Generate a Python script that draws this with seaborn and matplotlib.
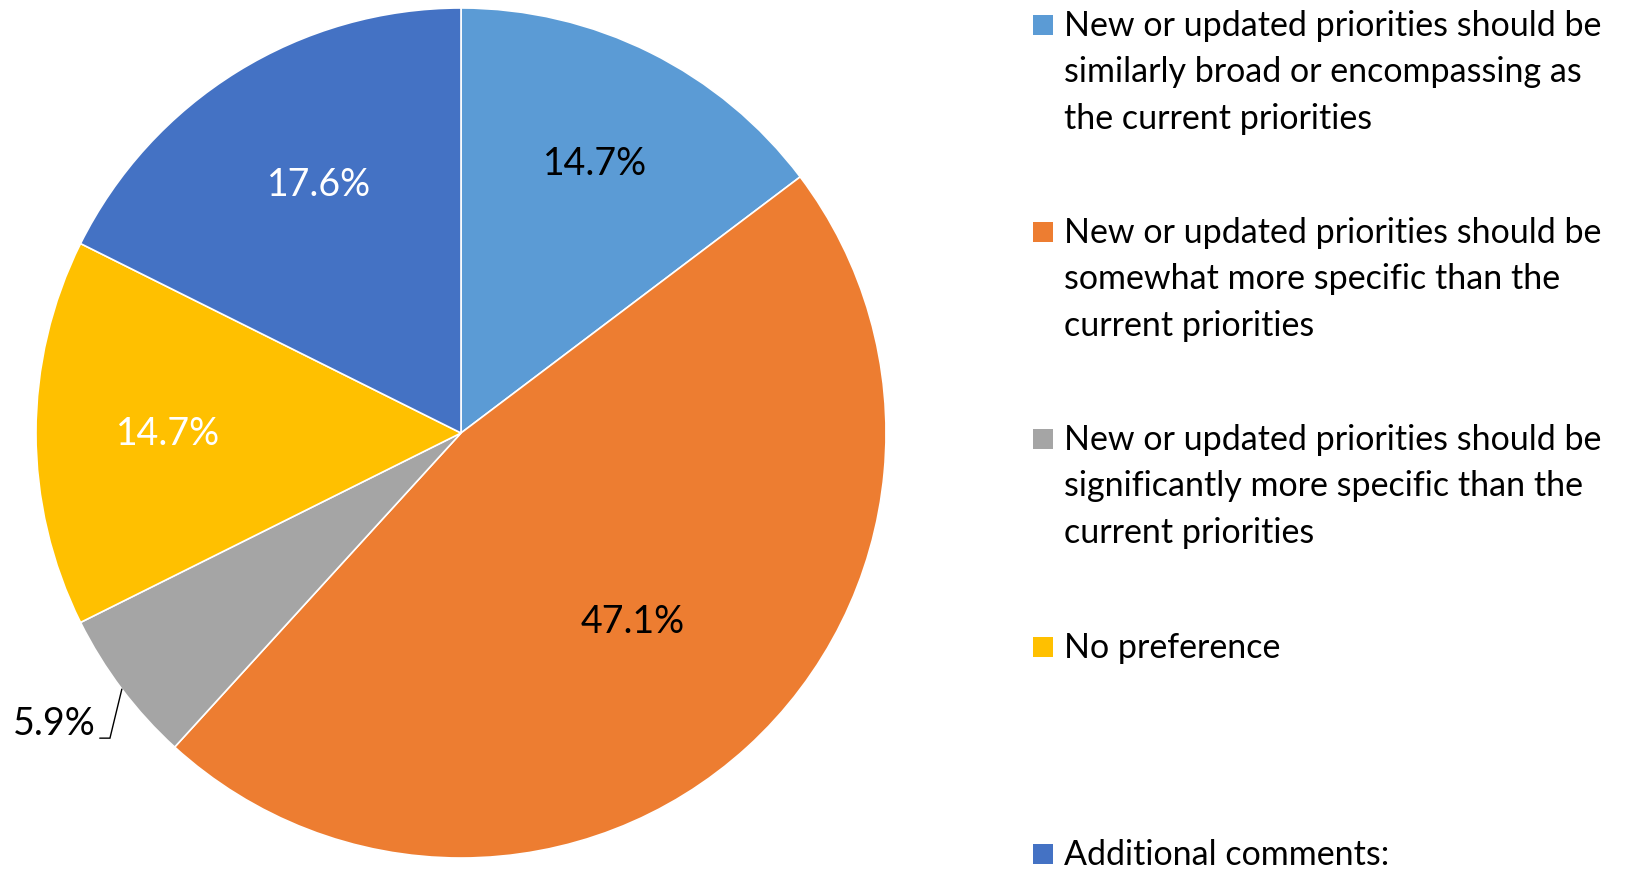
import matplotlib
matplotlib.use("Agg")
import matplotlib.pyplot as plt
from matplotlib.patches import Rectangle
import numpy as np
import seaborn as sns

# Survey responses (counts out of 34)
categories = [
    "New or updated priorities should be\nsimilarly broad or encompassing as\nthe current priorities",
    "New or updated priorities should be\nsomewhat more specific than the\ncurrent priorities",
    "New or updated priorities should be\nsignificantly more specific than the\ncurrent priorities",
    "No preference",
    "Additional comments:",
]
counts = [5, 16, 2, 5, 6]
colors = ["#5B9BD5", "#ED7D31", "#A5A5A5", "#FFC000", "#4472C4"]
label_colors = ["black", "black", "black", "white", "white"]

sns.set_theme(style="white")
plt.rcParams["font.family"] = ["Lato", "DejaVu Sans"]

W, H = 1625, 870
fig = plt.figure(figsize=(W / 100, H / 100), dpi=100)
fig.patch.set_facecolor("white")

cx, cy, R = 461, 434, 425
ax = fig.add_axes([(cx - R) / W, (H - cy - R) / H, 2 * R / W, 2 * R / H])

total = sum(counts)
wedges, texts = ax.pie(
    counts,
    colors=colors,
    startangle=90,
    counterclock=False,
    wedgeprops=dict(edgecolor="white", linewidth=1.2),
)
ax.set_xlim(-1, 1)
ax.set_ylim(-1, 1)
ax.set_aspect("equal")
ax.axis("off")
for w in wedges:
    w.set_clip_on(False)

pcts = [100 * c / total for c in counts]
dists = [0.71, 0.60, 1.0, 0.69, 0.69]
for i, (w, p) in enumerate(zip(wedges, pcts)):
    mid = np.deg2rad((w.theta1 + w.theta2) / 2)
    txt = f"{p:.1f}%"
    if i == 2:
        # small slice: label outside, joined by a leader line
        ex, ey = np.cos(mid), np.sin(mid)
        ax.text(-0.958, -0.683, txt, ha="center", va="center",
                fontsize=27, color="black", clip_on=False)
        ax.plot([-0.850, -0.826, ex], [-0.718, -0.718, ey], color="black",
                lw=1.0, clip_on=False, solid_joinstyle="miter")
    else:
        d = dists[i]
        ax.text(d * np.cos(mid) + (0.03 if i == 4 else 0), d * np.sin(mid), txt,
                ha="center", va="center", fontsize=27, color=label_colors[i])

# Legend on the right
ys = [26, 233, 440, 648, 855]
for lab, col, y in zip(categories, colors, ys):
    fig.patches.append(Rectangle((1033 / W, (H - y - 10) / H), 20 / W, 20 / H,
                                 transform=fig.transFigure, facecolor=col,
                                 edgecolor="none"))
    fig.text(1064 / W, (H - y + 16) / H, lab, ha="left", va="top",
             fontsize=24.5, color="black", linespacing=1.55)

fig.savefig("out.png", dpi=100)
